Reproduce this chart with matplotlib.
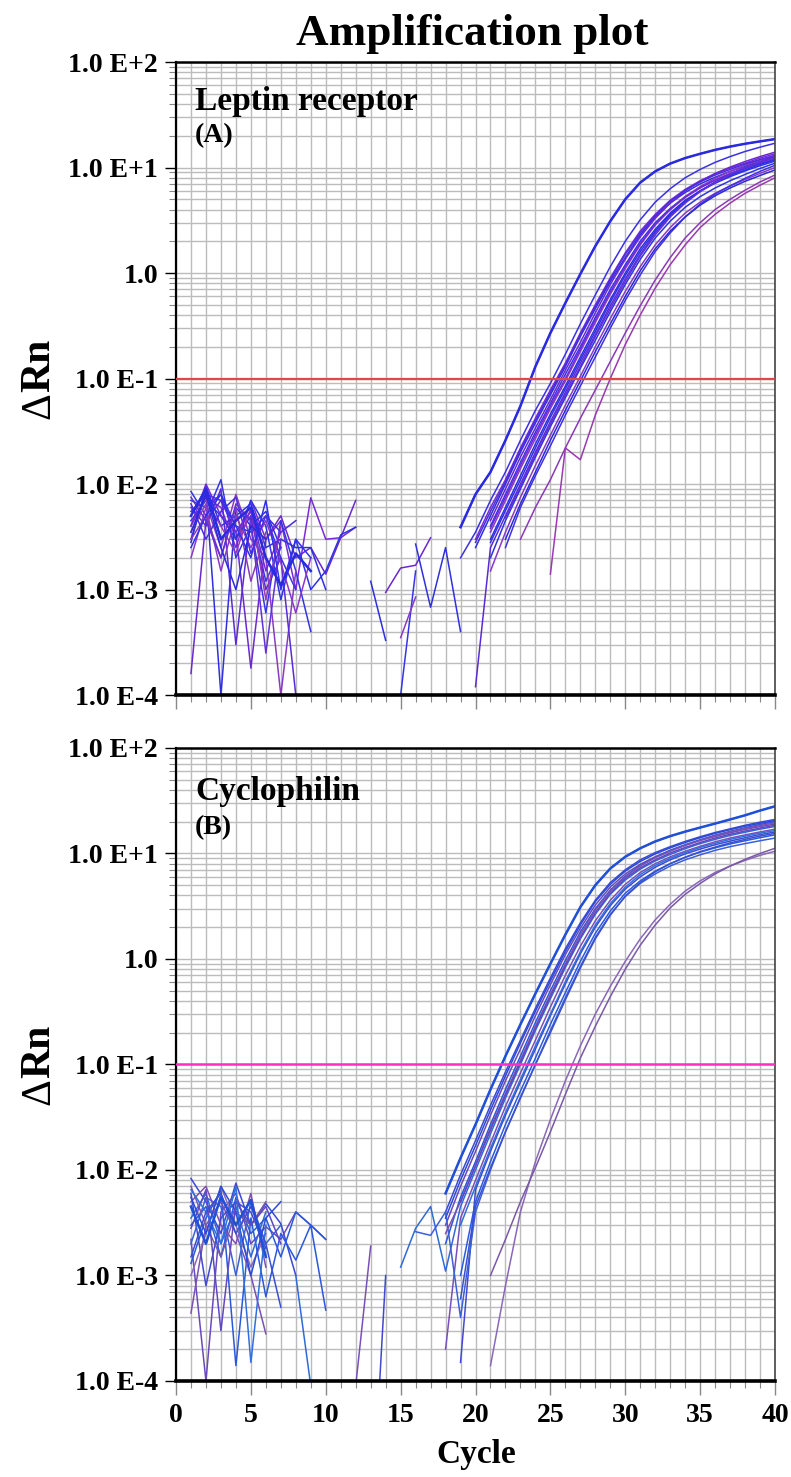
import numpy as np
import matplotlib.pyplot as plt
from matplotlib.ticker import MultipleLocator, LogLocator, FixedLocator, FixedFormatter, NullFormatter

N = np.nan
cycles = np.arange(1, 41)

y_ticks = [1e-4, 1e-3, 1e-2, 1e-1, 1e0, 1e1, 1e2]
y_labels = ["1.0 E-4", "1.0 E-3", "1.0 E-2", "1.0 E-1", "1.0", "1.0 E+1", "1.0 E+2"]
threshold = 0.1

# (A) Leptin receptor, delta Rn per cycle (nan = below zero, not drawn)
lep_1 = [5.0e-3, 9.0e-3, 3.0e-3, 4.5e-3, 6.0e-3, 2.0e-3, 1.1e-3, 2.2e-3, 1.5e-3, N,
         N, N, N, N, N, N, N, N, 3.9e-3, 8.0e-3,
         1.3e-2, 2.6e-2, 5.5e-2, 0.13, 0.27, 0.52, 0.98, 1.8, 3.1, 5.0,
         7.2, 9.2, 10.9, 12.3, 13.5, 14.7, 15.8, 16.8, 17.7, 18.6]
lep_2 = [7.0e-3, 6.0e-3, 8.0e-3, 3.0e-3, 5.0e-3, 1.2e-3, 2.5e-3, N, N, N,
         N, N, N, N, N, N, N, N, 2.0e-3, 3.5e-3,
         7.0e-3, 1.3e-2, 2.6e-2, 5.0e-2, 9.0e-2, 0.17, 0.33, 0.62, 1.15, 2.0,
         3.2, 4.7, 6.3, 8.0, 9.6, 11.2, 12.7, 14.2, 15.6, 17.0]
lep_3 = [4.0e-3, 7.5e-3, 6.0e-3, 2.5e-3, 7.0e-3, 3.0e-3, 4.5e-3, 1.0e-3, 7.4e-3, 3.0e-3,
         3.1e-3, 3.9e-3, N, N, N, N, N, N, N, 3.0e-3,
         6.0e-3, 1.1e-2, 2.2e-2, 4.2e-2, 7.8e-2, 0.14, 0.27, 0.5, 0.9, 1.55,
         2.5, 3.6, 4.9, 6.2, 7.5, 8.7, 9.9, 11.0, 12.3, 13.5]
lep_4 = [3.0e-3, 8.5e-3, 1.0e-4, 6.0e-3, 4.0e-3, 5.5e-3, 2.5e-3, N, N, N,
         N, N, 1.2e-3, 3.3e-4, N, N, N, N, N, 2.5e-3,
         5.0e-3, 1.0e-2, 2.0e-2, 3.8e-2, 7.0e-2, 0.13, 0.25, 0.46, 0.83, 1.4,
         2.3, 3.4, 4.6, 5.8, 7.0, 8.1, 9.2, 10.3, 11.4, 12.5]
lep_5 = [1.6e-4, 4.5e-3, 7.0e-3, 3.5e-3, 1.8e-4, 3.0e-3, 5.0e-3, 2.0e-3, 2.5e-3, 1.4e-3,
         3.1e-3, 7.0e-3, N, 9.4e-4, 1.6e-3, 1.7e-3, 3.1e-3, N, N, N,
         4.5e-3, 9.0e-3, 1.8e-2, 3.4e-2, 6.3e-2, 0.12, 0.22, 0.42, 0.78, 1.35,
         2.2, 3.3, 4.6, 6.0, 7.4, 8.8, 10.1, 11.4, 12.7, 14.0]
lep_6 = [8.5e-3, 5.0e-3, 1.1e-2, 2.0e-3, 4.0e-3, 6.0e-4, 4.5e-3, 1.5e-3, 4.0e-4, N,
         N, N, N, N, 1.0e-4, 1.5e-3, N, N, N, N,
         4.0e-3, 8.0e-3, 1.6e-2, 3.1e-2, 5.8e-2, 0.11, 0.2, 0.38, 0.7, 1.2,
         2.0, 3.0, 4.1, 5.3, 6.5, 7.6, 8.7, 9.8, 10.9, 12.0]
lep_7 = [3.5e-3, 6.5e-3, 2.5e-3, 8.0e-3, 3.0e-3, 2.0e-3, 1.0e-4, 1.5e-3, N, N,
         N, N, N, N, 3.5e-4, 8.5e-4, N, N, N, N,
         3.5e-3, 7.0e-3, 1.4e-2, 2.7e-2, 5.2e-2, 9.5e-2, 0.18, 0.34, 0.63, 1.1,
         1.85, 2.85, 4.0, 5.3, 6.6, 7.9, 9.2, 10.5, 11.8, 13.0]
lep_8 = [2.8e-3, 9.5e-3, 4.0e-3, 5.0e-3, 6.5e-3, 2.5e-3, 3.0e-3, 2.5e-3, 2.5e-3, 1.0e-3,
         N, N, N, N, N, 2.7e-3, 6.8e-4, 2.5e-3, 4.0e-4, N,
         3.0e-3, 6.0e-3, 1.2e-2, 2.4e-2, 4.6e-2, 8.5e-2, 0.16, 0.3, 0.56, 1.0,
         1.7, 2.6, 3.7, 4.9, 6.0, 7.1, 8.2, 9.3, 10.4, 11.5]
lep_9 = [6.0e-3, 4.0e-3, 9.0e-3, 3.0e-4, 5.0e-3, 1.0e-3, 2.0e-3, 1.0e-4, N, N,
         N, N, N, N, N, N, N, N, N, 1.2e-4,
         2.5e-3, 5.0e-3, 1.0e-2, 2.0e-2, 3.9e-2, 7.4e-2, 0.14, 0.26, 0.49, 0.88,
         1.5, 2.4, 3.5, 4.7, 6.0, 7.3, 8.6, 9.9, 11.2, 12.5]
lep_10 = [4.5e-3, 7.0e-3, 5.0e-3, 3.0e-3, 7.0e-3, 4.0e-3, 8.0e-4, 3.0e-3, 1.0e-3, 1.5e-3,
          3.3e-3, 3.9e-3, N, N, N, N, N, N, N, N,
          2.0e-3, 4.5e-3, 9.0e-3, 1.8e-2, 3.5e-2, 6.6e-2, 0.125, 0.23, 0.43, 0.78,
          1.35, 2.15, 3.1, 4.2, 5.3, 6.4, 7.5, 8.6, 9.8, 11.0]
lep_11 = [2.0e-3, 6.0e-3, 1.5e-3, 5.0e-3, 2.5e-3, 4.5e-3, 1.8e-3, 6.0e-4, 2.0e-3, N,
          N, N, N, N, N, N, N, N, N, N,
          1.5e-3, 3.5e-3, 7.5e-3, 1.5e-2, 2.9e-2, 5.6e-2, 0.105, 0.2, 0.37, 0.67,
          1.15, 1.85, 2.7, 3.7, 4.7, 5.7, 6.7, 7.7, 8.8, 10.0]
lep_12 = [5.5e-3, 8.0e-3, 7.0e-3, 4.0e-3, 3.5e-3, 5.0e-3, 2.0e-3, 1.0e-3, N, N,
          N, N, N, N, N, N, N, N, N, N,
          N, 2.5e-3, 6.0e-3, 1.2e-2, 2.3e-2, 4.5e-2, 8.5e-2, 0.16, 0.3, 0.55,
          0.96, 1.6, 2.4, 3.4, 4.5, 5.6, 6.7, 7.9, 9.2, 10.5]
lep_13 = [3.0e-3, 5.0e-3, 2.0e-3, 6.0e-3, 1.2e-3, 3.5e-3, N, N, N, N,
          N, N, N, N, N, N, N, N, N, N,
          N, N, 3.0e-3, 6.0e-3, 1.1e-2, 2.2e-2, 4.2e-2, 7.8e-2, 0.145, 0.27,
          0.49, 0.86, 1.4, 2.15, 3.0, 4.0, 5.0, 6.1, 7.3, 8.5]
lep_14 = [N, 7.0e-3, 4.0e-3, 2.2e-3, 6.0e-3, 8.0e-4, 4.0e-3, N, N, N,
          N, N, N, N, N, N, N, N, N, N,
          N, N, N, N, 1.4e-3, 2.2e-2, 1.7e-2, 4.5e-2, 0.1, 0.21,
          0.4, 0.72, 1.2, 1.85, 2.7, 3.6, 4.6, 5.7, 6.8, 8.0]
lep_15 = [6.5e-3, 3.0e-3, 5.5e-3, 7.5e-3, 2.2e-3, 5.0e-3, 3.5e-3, 4.5e-3, N, N,
          N, N, N, N, N, N, N, N, N, 2.8e-3,
          5.5e-3, 1.05e-2, 2.1e-2, 4.0e-2, 7.4e-2, 0.135, 0.26, 0.48, 0.87, 1.5,
          2.4, 3.5, 4.8, 6.1, 7.3, 8.5, 9.6, 10.8, 11.9, 13.0]
lep_16 = [4.0e-3, 1.0e-2, 5.0e-3, 3.5e-3, 5.5e-3, 1.5e-3, 3.5e-3, N, N, N,
          N, N, N, N, N, N, N, N, N, N,
          3.8e-3, 7.5e-3, 1.5e-2, 2.9e-2, 5.5e-2, 0.1, 0.19, 0.36, 0.66, 1.15,
          1.9, 2.9, 4.0, 5.2, 6.4, 7.6, 8.8, 10.0, 11.2, 12.3]
lep_17 = [2.5e-3, 5.0e-3, 8.0e-3, 4.0e-3, 2.0e-3, 7.0e-3, 1.0e-3, 3.0e-3, 2.0e-3, N,
          N, N, N, N, N, N, N, N, N, N,
          2.8e-3, 5.6e-3, 1.1e-2, 2.2e-2, 4.3e-2, 8.0e-2, 0.15, 0.28, 0.53, 0.95,
          1.6, 2.5, 3.6, 4.8, 6.0, 7.2, 8.4, 9.5, 10.7, 11.8]
lep_18 = [7.5e-3, 4.5e-3, 2.0e-3, 6.5e-3, 4.5e-3, 2.5e-4, 3.0e-3, N, N, N,
          N, N, N, N, N, N, N, N, N, N,
          N, 4.8e-3, 9.5e-3, 1.9e-2, 3.7e-2, 7.0e-2, 0.13, 0.25, 0.46, 0.83,
          1.45, 2.3, 3.4, 4.6, 5.9, 7.2, 8.6, 10.0, 11.4, 12.8]
lep_19 = [3.5e-3, 8.0e-3, 2.5e-3, 1.0e-3, 4.0e-3, 3.0e-3, N, N, N, N,
          N, N, N, N, N, N, N, N, N, N,
          N, 3.0e-3, 6.5e-3, 1.3e-2, 2.6e-2, 5.0e-2, 9.5e-2, 0.18, 0.33, 0.6,
          1.05, 1.7, 2.5, 3.4, 4.4, 5.4, 6.4, 7.4, 8.4, 9.5]

# (B) Cyclophilin
cyc_1 = [4.5e-3, 2.0e-3, 5.6e-3, 3.0e-3, 5.2e-3, 1.5e-3, N, N, N, N,
         N, N, N, N, N, N, N, 6.0e-3, 1.3e-2, 2.7e-2,
         5.8e-2, 0.12, 0.24, 0.47, 0.9, 1.7, 3.1, 5.0, 7.2, 9.3,
         11.2, 13.0, 14.6, 16.1, 17.6, 19.2, 21.0, 23.0, 25.5, 28.0]
cyc_2 = [8.3e-3, 5.0e-3, 2.5e-3, 7.5e-3, 3.0e-3, 4.8e-3, 3.1e-3, 1.0e-3, N, N,
         N, N, N, N, N, N, N, 4.0e-3, 9.0e-3, 1.9e-2,
         4.1e-2, 8.5e-2, 0.17, 0.34, 0.66, 1.25, 2.2, 3.6, 5.3, 7.0,
         8.7, 10.2, 11.6, 13.0, 14.4, 15.8, 17.1, 18.5, 19.8, 21.0]
cyc_3 = [2.2e-3, 1.0e-4, 4.0e-3, 6.0e-3, 2.0e-3, 2.9e-3, 2.2e-3, 4.0e-3, 3.0e-3, 2.2e-3,
         N, N, N, N, N, N, N, 3.0e-3, 7.0e-3, 1.5e-2,
         3.3e-2, 7.0e-2, 0.14, 0.29, 0.57, 1.1, 1.95, 3.25, 4.8, 6.4,
         7.9, 9.3, 10.7, 12.0, 13.3, 14.5, 15.7, 16.9, 18.0, 19.0]
cyc_4 = [1.3e-3, 3.5e-3, 6.5e-3, 1.4e-4, 3.5e-3, 6.3e-4, 2.5e-3, 1.4e-3, 3.0e-3, 4.7e-4,
         N, N, N, N, N, N, N, 2.0e-3, 5.5e-3, 1.2e-2,
         2.7e-2, 5.8e-2, 0.12, 0.25, 0.5, 0.97, 1.8, 3.0, 4.5, 6.1,
         7.7, 9.2, 10.7, 12.1, 13.5, 14.9, 16.2, 17.5, 18.8, 20.0]
cyc_5 = [3.5e-3, 6.0e-3, 2.0e-3, 4.5e-3, 1.5e-3, 4.0e-3, N, 1.0e-3, 9.0e-5, N,
         N, N, N, N, 1.2e-3, 2.8e-3, 4.5e-3, 1.1e-3, 4.5e-3, 1.0e-2,
         2.2e-2, 4.8e-2, 0.1, 0.21, 0.42, 0.83, 1.55, 2.65, 4.1, 5.6,
         7.1, 8.5, 9.8, 11.1, 12.4, 13.6, 14.8, 15.9, 17.0, 18.0]
cyc_6 = [4.4e-4, 3.0e-3, 5.0e-3, 2.5e-3, 1.0e-3, 2.8e-4, N, N, N, N,
         N, 9.0e-5, 1.9e-3, N, N, N, N, 2.0e-4, 3.5e-3, 8.0e-3,
         1.8e-2, 4.0e-2, 8.3e-2, 0.17, 0.35, 0.7, 1.32, 2.3, 3.6, 5.1,
         6.6, 8.0, 9.3, 10.5, 11.7, 12.9, 14.0, 15.0, 16.0, 17.0]
cyc_7 = [6.0e-3, 8.0e-4, 3.5e-3, 5.0e-3, 4.0e-3, 1.8e-3, N, N, N, N,
         N, N, 3.0e-6, 1.0e-3, N, N, N, N, 1.5e-4, 6.5e-3,
         1.5e-2, 3.3e-2, 6.8e-2, 0.14, 0.29, 0.58, 1.12, 2.0, 3.2, 4.6,
         6.0, 7.4, 8.7, 9.9, 11.0, 12.1, 13.1, 14.1, 15.1, 16.0]
cyc_8 = [3.0e-3, 4.5e-3, 1.5e-3, 5.5e-3, 2.5e-3, 3.5e-3, 1.5e-3, 4.0e-3, 3.0e-3, 2.2e-3,
         N, N, N, N, N, N, N, N, 1.0e-3, 5.0e-3,
         1.2e-2, 2.7e-2, 5.6e-2, 0.115, 0.24, 0.48, 0.95, 1.75, 2.85, 4.2,
         5.5, 6.8, 8.0, 9.2, 10.3, 11.3, 12.3, 13.2, 14.1, 15.0]
cyc_9 = [2.0e-3, 5.5e-3, 4.5e-3, 1.0e-3, 5.0e-3, 2.0e-3, 3.0e-3, N, N, N,
         N, N, N, N, N, 2.6e-3, 2.4e-3, 4.0e-3, 4.0e-4, 4.0e-3,
         1.0e-2, 2.3e-2, 4.9e-2, 0.1, 0.21, 0.43, 0.85, 1.6, 2.65, 3.9,
         5.2, 6.4, 7.6, 8.7, 9.7, 10.7, 11.6, 12.4, 13.2, 14.0]
cyc_10 = [5.0e-3, 7.0e-3, 3.0e-3, 2.0e-3, 6.0e-3, 1.2e-3, N, N, N, N,
          N, N, N, N, N, N, N, 2.5e-3, 5.0e-3, 1.1e-2,
          2.5e-2, 5.3e-2, 0.11, 0.23, 0.46, 0.9, 1.7, 2.9, 4.4, 6.0,
          7.6, 9.1, 10.5, 11.9, 13.3, 14.7, 16.0, 17.2, 18.4, 19.5]
cyc_11 = [1.0e-3, 2.5e-3, 7.0e-3, 3.0e-3, 1.2e-3, 2.5e-3, N, N, N, N,
          N, N, N, N, N, N, N, N, N, N,
          1.4e-4, 8.0e-4, 4.0e-3, 1.2e-2, 3.0e-2, 7.0e-2, 0.15, 0.3, 0.55, 0.95,
          1.55, 2.35, 3.3, 4.4, 5.5, 6.6, 7.6, 8.6, 9.6, 10.5]
cyc_12 = [7.0e-3, 3.0e-3, 1.5e-3, 4.0e-3, 3.0e-3, 5.0e-3, N, N, N, N,
          N, N, N, N, N, N, N, N, N, N,
          1.0e-3, 2.2e-3, 5.0e-3, 1.05e-2, 2.3e-2, 5.2e-2, 0.115, 0.23, 0.44, 0.8,
          1.35, 2.1, 3.05, 4.1, 5.2, 6.4, 7.6, 8.8, 10.0, 11.2]
cyc_13 = [5.5e-3, 2.5e-3, 7.0e-3, 4.0e-3, 1.0e-3, 3.5e-3, 5.0e-3, N, N, N,
          N, N, N, N, N, N, N, 3.5e-3, 8.0e-3, 1.7e-2,
          3.7e-2, 7.8e-2, 0.16, 0.32, 0.62, 1.18, 2.1, 3.5, 5.1, 6.8,
          8.4, 9.9, 11.3, 12.7, 14.1, 15.5, 16.8, 18.1, 19.3, 20.5]
cyc_14 = [2.8e-3, 6.5e-3, 3.0e-4, 5.0e-3, 3.0e-3, 4.5e-3, 2.0e-3, N, N, N,
          N, N, N, N, N, N, N, N, 5.0e-3, 1.1e-2,
          2.4e-2, 5.1e-2, 0.105, 0.22, 0.44, 0.86, 1.6, 2.75, 4.2, 5.8,
          7.3, 8.7, 10.1, 11.4, 12.7, 14.0, 15.2, 16.3, 17.4, 18.5]
cyc_15 = [6.5e-3, 4.0e-3, 2.0e-3, 7.0e-3, 1.5e-4, 3.0e-3, N, N, N, N,
          N, N, N, N, N, N, N, N, 3.0e-3, 7.0e-3,
          1.6e-2, 3.5e-2, 7.2e-2, 0.15, 0.3, 0.61, 1.17, 2.1, 3.35, 4.8,
          6.3, 7.7, 9.0, 10.2, 11.4, 12.5, 13.6, 14.6, 15.6, 16.5]
cyc_16 = [1.5e-3, 4.0e-3, 6.0e-3, 2.5e-3, 4.5e-3, 2.0e-3, 5.0e-4, N, N, N,
          N, N, N, N, N, N, N, N, 6.0e-4, 4.5e-3,
          1.05e-2, 2.3e-2, 4.8e-2, 0.1, 0.2, 0.41, 0.82, 1.55, 2.6, 3.95,
          5.3, 6.7, 8.0, 9.2, 10.4, 11.5, 12.6, 13.6, 14.6, 15.5]

lep_curves = [lep_1, lep_2, lep_3, lep_4, lep_5, lep_6, lep_7, lep_8, lep_9, lep_10,
              lep_11, lep_12, lep_13, lep_14, lep_15, lep_16, lep_17, lep_18, lep_19]
lep_colors = ['#2a2ae0', '#3a30e8', '#7a2ad8', '#2f2fe0', '#6a28d0', '#3535e8', '#8a3ac0',
              '#3030e0', '#5a2ad8', '#2c34e4', '#8a38c8', '#4030e0', '#8a3ab8', '#9a3ab0',
              '#4a2ce0', '#7028d8', '#3030e8', '#6030d8', '#2a2ad8']
cyc_curves = [cyc_1, cyc_2, cyc_3, cyc_4, cyc_5, cyc_6, cyc_7, cyc_8,
              cyc_9, cyc_10, cyc_11, cyc_12, cyc_13, cyc_14, cyc_15, cyc_16]
cyc_colors = ['#2050d8', '#3a48d8', '#6a4ab8', '#2a58dc', '#2f6ad8', '#7a50b8',
              '#4048d0', '#2a5ae0', '#3a60d8', '#8050b0', '#8a68b8', '#7a5aa8',
              '#2a4ad8', '#6048c0', '#2f70dc', '#3a50d0']

plt.rcParams['font.family'] = 'Liberation Serif'
plt.rcParams['font.weight'] = 'bold'

fig = plt.figure(figsize=(7.91, 14.77), dpi=100)
ax1 = fig.add_axes([0.2225, 0.5294, 0.7573, 0.4286])
ax2 = fig.add_axes([0.2225, 0.0650, 0.7573, 0.4286])


def setup(ax, show_xlabels):
    ax.set_yscale('log')
    ax.set_ylim(1e-4, 1e2)
    ax.set_xlim(0, 40)
    ax.yaxis.set_major_locator(FixedLocator(y_ticks))
    ax.yaxis.set_major_formatter(FixedFormatter(y_labels))
    ax.yaxis.set_minor_locator(LogLocator(base=10, subs=np.arange(2, 10), numticks=30))
    ax.yaxis.set_minor_formatter(NullFormatter())
    ax.xaxis.set_major_locator(MultipleLocator(5))
    ax.xaxis.set_minor_locator(MultipleLocator(1))
    ax.grid(which='both', color='#bcbcbc', lw=1.0)
    ax.set_axisbelow(True)
    ax.tick_params(axis='y', which='major', length=8, width=1, labelsize=20, pad=5)
    ax.tick_params(axis='y', which='minor', length=5, width=0.8, color='#888888')
    ax.tick_params(axis='x', which='major', length=10, width=1, color='#888888',
                   labelsize=20, pad=6, labelbottom=show_xlabels)
    ax.tick_params(axis='x', which='minor', length=5, width=0.8, color='#888888')
    ax.spines['left'].set_linewidth(1.6)
    ax.spines['bottom'].set_linewidth(2.6)
    ax.spines['top'].set_linewidth(1.8)
    ax.spines['right'].set_linewidth(1.2)
    ax.spines['right'].set_color('#444444')


setup(ax1, False)
setup(ax2, True)

for vals, col in zip(lep_curves, lep_colors):
    ax1.plot(cycles, vals, color=col, lw=1.1)
ax1.plot(cycles, lep_1, color='#2a2ae0', lw=1.8)
ax1.axhline(threshold, color='#e04848', lw=1.6, zorder=4)

for vals, col in zip(cyc_curves, cyc_colors):
    ax2.plot(cycles, vals, color=col, lw=1.1)
ax2.plot(cycles, cyc_1, color='#2050d8', lw=1.8)
ax2.axhline(threshold, color='#ff30c0', lw=1.8, zorder=4)

ax1.text(0.032, 0.924, "Leptin receptor", transform=ax1.transAxes, fontsize=24, weight='bold')
ax1.text(0.032, 0.874, "(A)", transform=ax1.transAxes, fontsize=20, weight='bold')
ax2.text(0.032, 0.918, "Cyclophilin", transform=ax2.transAxes, fontsize=24, weight='bold')
ax2.text(0.032, 0.864, "(B)", transform=ax2.transAxes, fontsize=20, weight='bold')

fig.text(0.597, 0.9695, "Amplification plot", ha='center', va='baseline', fontsize=32.5, weight='bold')
# delta drawn in regular weight, "Rn" in bold, as in the original label
for yc_d, yc_r in [(0.7255, 0.7525), (0.2610, 0.2880)]:
    fig.text(0.05, yc_d, "\u0394", rotation=90, ha='center', va='center', fontsize=30, weight='normal')
    fig.text(0.05, yc_r, "Rn", rotation=90, ha='center', va='center', fontsize=30, weight='bold')
fig.text(0.602, 0.015, "Cycle", ha='center', va='center', fontsize=24, weight='bold')

fig.savefig("out.png", dpi=100)
